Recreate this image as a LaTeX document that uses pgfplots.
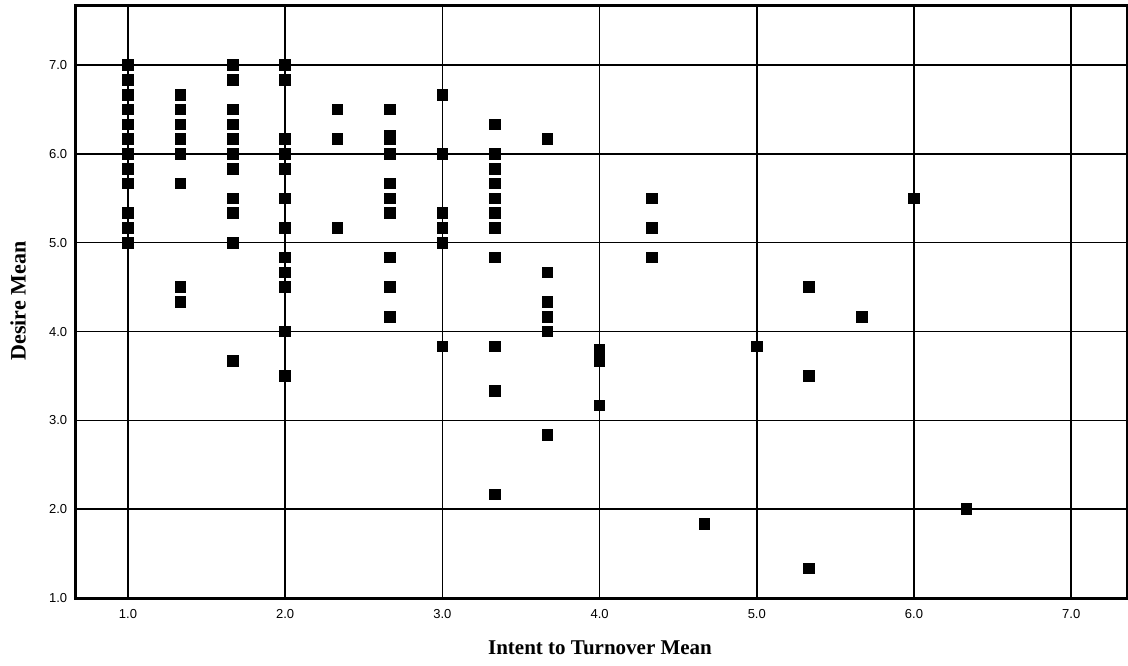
\documentclass[border=0pt]{standalone}
\usepackage{pgfplots}
\pgfplotsset{compat=1.18}
\usepackage{fontspec}
\setmainfont{Liberation Serif}
\newfontfamily\tickfont{Liberation Sans}
\begin{document}
\begin{tikzpicture}
\useasboundingbox (0,0) rectangle (564pt,332.5pt);
\begin{axis}[
  at={(37.5pt,33.5pt)}, anchor=south west,
  width=526pt, height=296.5pt, scale only axis,
  xmin=0.663, xmax=7.355, ymin=1.0, ymax=7.676,
  xtick={1,2,3,4,5,6,7}, ytick={1,2,3,4,5,6,7},
  grid=major, major grid style={black, line width=0.75pt},
  axis line style={line width=1.5pt},
  major tick length=0pt,
  /pgf/number format/.cd, fixed, fixed zerofill, precision=1, assume math mode=true,
  /pgfplots/.cd,
  tick label style={font=\tickfont\fontsize{6.5}{7}\selectfont},
  xticklabel style={anchor=north, inner sep=0pt, yshift=-5.3pt},
  yticklabel style={anchor=east, inner sep=0pt, xshift=-3.7pt},
  clip=false,
]
\addplot[only marks, mark=square*, mark size=2.65pt, black] table {
x y
1.000 7.000
1.000 6.833
1.000 6.667
1.000 6.500
1.000 6.333
1.000 6.167
1.000 6.000
1.000 5.833
1.000 5.667
1.000 5.333
1.000 5.167
1.000 5.000
1.333 6.667
1.333 6.500
1.333 6.333
1.333 6.167
1.333 6.000
1.333 5.667
1.333 4.500
1.333 4.333
1.667 7.000
1.667 6.833
1.667 6.500
1.667 6.333
1.667 6.167
1.667 6.000
1.667 5.833
1.667 5.500
1.667 5.333
1.667 5.000
1.667 3.667
2.000 7.000
2.000 6.833
2.000 6.167
2.000 6.000
2.000 5.833
2.000 5.500
2.000 5.167
2.000 4.833
2.000 4.667
2.000 4.500
2.000 4.000
2.000 3.500
2.333 6.500
2.333 6.167
2.333 5.167
2.667 6.500
2.667 6.167
2.667 6.200
2.667 6.000
2.667 5.667
2.667 5.500
2.667 5.333
2.667 4.833
2.667 4.500
2.667 4.167
3.000 6.667
3.000 6.000
3.000 5.333
3.000 5.167
3.000 5.000
3.000 3.833
3.333 6.333
3.333 6.000
3.333 5.833
3.333 5.667
3.333 5.500
3.333 5.333
3.333 5.167
3.333 4.833
3.333 3.833
3.333 3.333
3.333 2.167
3.667 6.167
3.667 4.667
3.667 4.333
3.667 4.167
3.667 4.000
3.667 2.833
4.000 3.800
4.000 3.667
4.000 3.167
4.333 5.500
4.333 5.167
4.333 4.833
4.667 1.833
5.000 3.833
5.333 4.500
5.333 3.500
5.333 1.333
5.667 4.167
6.000 5.500
6.333 2.000
};
\end{axis}
\node[font=\bfseries\fontsize{10.5}{12}\selectfont] at (300pt,8.5pt) {Intent to Turnover Mean};
\node[font=\bfseries\fontsize{11}{12}\selectfont, rotate=90] at (9pt,182pt) {Desire Mean};
\end{tikzpicture}
\end{document}
